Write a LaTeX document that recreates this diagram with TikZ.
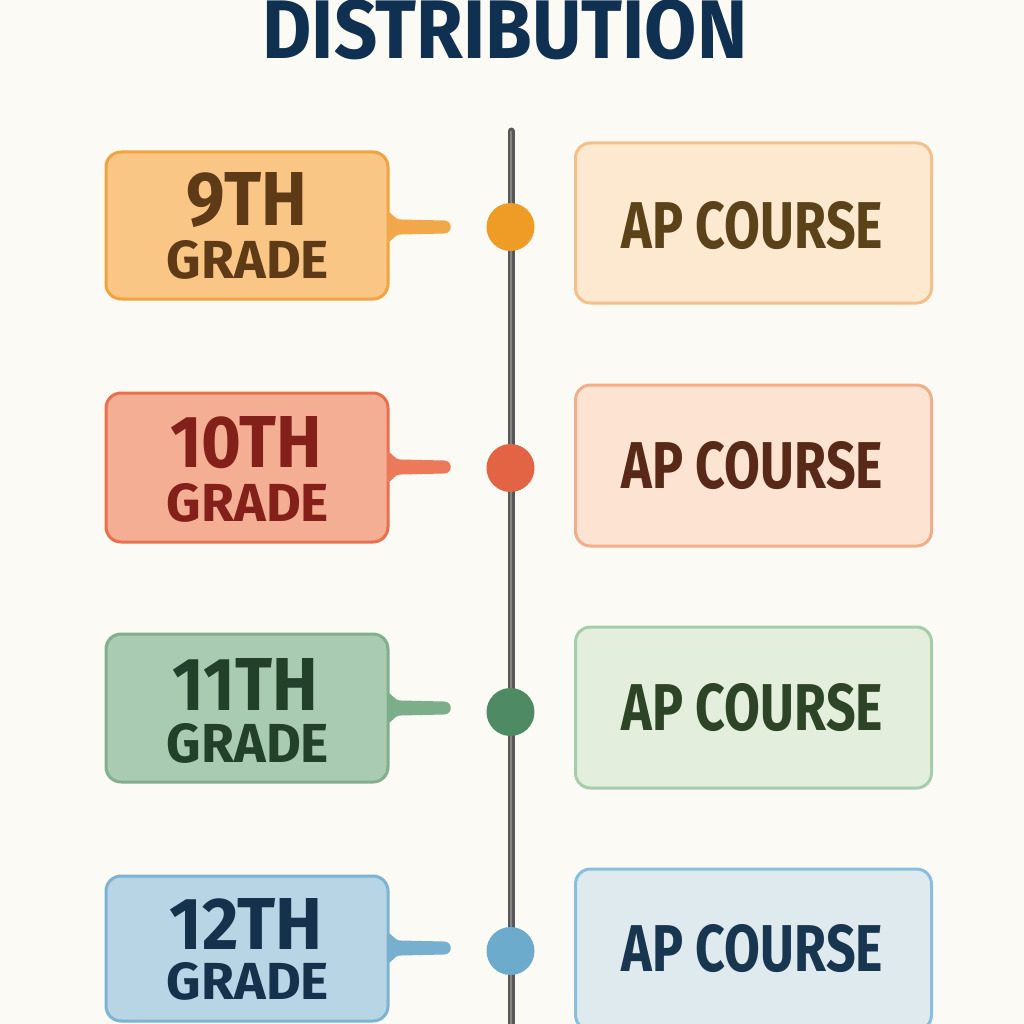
\documentclass[tikz,border=0pt]{standalone}
\usepackage{graphicx}
\usepackage{fontspec}
\setmainfont{Fira Sans}
\definecolor{bg}{HTML}{FCFAF4}
\definecolor{titlec}{HTML}{0F3050}
\definecolor{linec}{HTML}{585858}
\definecolor{linehi}{HTML}{858585}
% row 1
\definecolor{lfA}{HTML}{F9C685}\definecolor{lbA}{HTML}{F1A33F}\definecolor{ltA}{HTML}{5E3A17}
\definecolor{tbA}{HTML}{F2A84A}\definecolor{dtA}{HTML}{EE9C25}
\definecolor{rfA}{HTML}{FDE8D0}\definecolor{rbA}{HTML}{F6BF8A}\definecolor{rtA}{HTML}{5C4219}
% row 2
\definecolor{lfB}{HTML}{F4AE93}\definecolor{lbB}{HTML}{E9704F}\definecolor{ltB}{HTML}{84201A}
\definecolor{tbB}{HTML}{EC7A5A}\definecolor{dtB}{HTML}{E26444}
\definecolor{rfB}{HTML}{FDE3D2}\definecolor{rbB}{HTML}{F2AE8A}\definecolor{rtB}{HTML}{582818}
% row 3
\definecolor{lfC}{HTML}{A9CBB1}\definecolor{lbC}{HTML}{82AE8E}\definecolor{ltC}{HTML}{22402A}
\definecolor{tbC}{HTML}{7DAE8C}\definecolor{dtC}{HTML}{4E8A64}
\definecolor{rfC}{HTML}{E4EEDD}\definecolor{rbC}{HTML}{A5CDA9}\definecolor{rtC}{HTML}{2D4426}
% row 4
\definecolor{lfD}{HTML}{B8D5E5}\definecolor{lbD}{HTML}{7CB3D2}\definecolor{ltD}{HTML}{15324D}
\definecolor{tbD}{HTML}{76B0CE}\definecolor{dtD}{HTML}{6CABCB}
\definecolor{rfD}{HTML}{DEEAEE}\definecolor{rbD}{HTML}{87C0DE}\definecolor{rtD}{HTML}{183650}

\newcommand{\fitt}[3]{\resizebox{#1pt}{#2pt}{\bfseries #3}}

\tikzset{
  gradebox/.style={draw, line width=3pt, rounded corners=15pt, minimum width=282pt, inner sep=0pt},
  coursebox/.style={draw, line width=3pt, rounded corners=15pt, minimum width=356pt, inner sep=0pt},
  txt/.style={inner sep=0pt, anchor=center},
  dotc/.style={circle, minimum size=48pt, inner sep=0pt},
}
\newcommand{\tabshape}[2]{% color, y center
  \fill[#1] (387,#2-15) .. controls (393,#2-15) and (393,#2-7.5) .. (401,#2-7.5)
    -- (444,#2-6.5) .. controls (453,#2-6.5) and (453,#2+6.5) .. (444,#2+6.5)
    -- (401,#2+7.5) .. controls (393,#2+7.5) and (393,#2+15) .. (387,#2+15) -- cycle;}

\begin{document}
\begin{tikzpicture}[x=1pt,y=-1pt]
\useasboundingbox (0,0) rectangle (1024,1024);
\fill[bg] (0,0) rectangle (1024,1024);

% title
\node[txt, text=titlec] (title) at (505,30) {\fitt{485}{59}{DISTRIBUTION}};

% timeline
\coordinate (ltop) at (511,131);
\coordinate (lbot) at (511,1030);
\draw[linec, line width=7pt, line cap=round] (ltop) -- (lbot);
\draw[linehi, line width=1.6pt] (ltop) -- (lbot);

% ---- row 1
\node[gradebox, fill=lfA, draw=lbA, minimum height=147pt] (g9) at (247,225.5) {};
\tabshape{tbA}{227}
\node[txt, text=ltA] (g9n) at (247,200) {\fitt{120}{53}{9TH}};
\node[txt, text=ltA] (g9g) at (248,259.5) {\fitt{162}{38}{GRADE}};
\node[dotc, fill=dtA] (d9) at (510.5,227) {};
\node[coursebox, fill=rfA, draw=rbA, minimum height=160pt] (c9) at (753.5,223) {};
\node[txt, text=rtA] (c9t) at (752.5,225.5) {\fitt{261}{47}{AP COURSE}};

% ---- row 2
\node[gradebox, fill=lfB, draw=lbB, minimum height=149pt] (g10) at (247,467.5) {};
\tabshape{tbB}{467}
\node[txt, text=ltB] (g10n) at (246,442.5) {\fitt{152}{51}{10TH}};
\node[txt, text=ltB] (g10g) at (248,502.5) {\fitt{162}{38}{GRADE}};
\node[dotc, fill=dtB] (d10) at (510.5,468) {};
\node[coursebox, fill=rfB, draw=rbB, minimum height=161pt] (c10) at (753.5,465.5) {};
\node[txt, text=rtB] (c10t) at (752.5,465.5) {\fitt{261}{47}{AP COURSE}};

% ---- row 3
\node[gradebox, fill=lfC, draw=lbC, minimum height=148pt] (g11) at (247,708) {};
\tabshape{tbC}{708}
\node[txt, text=ltC] (g11n) at (245.5,684) {\fitt{145}{52}{11TH}};
\node[txt, text=ltC] (g11g) at (248,743) {\fitt{162}{39}{GRADE}};
\node[dotc, fill=dtC] (d11) at (510.5,712) {};
\node[coursebox, fill=rfC, draw=rbC, minimum height=161pt] (c11) at (753.5,707.5) {};
\node[txt, text=rtC] (c11t) at (752.5,707.5) {\fitt{261}{47}{AP COURSE}};

% ---- row 4
\node[gradebox, fill=lfD, draw=lbD, minimum height=145pt] (g12) at (247,948.5) {};
\tabshape{tbD}{948}
\node[txt, text=ltD] (g12n) at (246.5,924) {\fitt{153}{51}{12TH}};
\node[txt, text=ltD] (g12g) at (248,981.5) {\fitt{162}{37}{GRADE}};
\node[dotc, fill=dtD] (d12) at (510.5,951) {};
\node[coursebox, fill=rfD, draw=rbD, minimum height=161pt] (c12) at (753.5,949.5) {};
\node[txt, text=rtD] (c12t) at (752.5,949) {\fitt{261}{47}{AP COURSE}};
\end{tikzpicture}
\end{document}
